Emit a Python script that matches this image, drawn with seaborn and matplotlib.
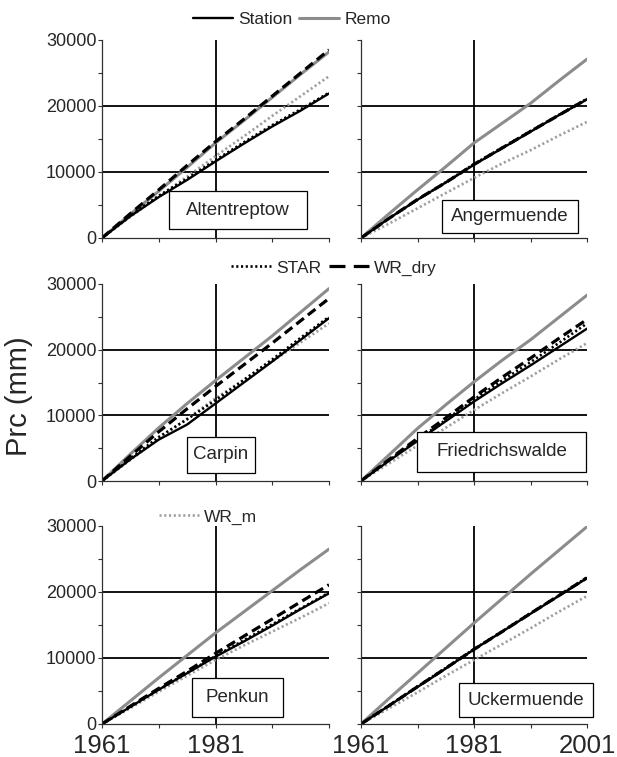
import pandas as pd
import matplotlib.pyplot as plt
from matplotlib.lines import Line2D
from matplotlib.patches import Rectangle
from matplotlib.ticker import MultipleLocator, FixedLocator
import seaborn as sns

# cumulative precipitation (mm), every 5 years
years = [1961, 1966, 1971, 1976, 1981, 1986, 1991, 1996, 2001]
sites = ['Altentreptow', 'Angermuende', 'Carpin', 'Friedrichswalde', 'Penkun', 'Uckermuende']

station = [
    [0, 3300, 6200, 8800, 11600, 14300, 16900, 19300, 21900],
    [0, 3000, 5800, 8400, 11100, 13600, 16100, 18600, 21000],
    [0, 3300, 6300, 8600, 11800, 15000, 18200, 21500, 24800],
    [0, 3100, 6100, 9100, 12100, 14900, 17600, 20400, 23200],
    [0, 2600, 5200, 7700, 10200, 12500, 14900, 17400, 19800],
    [0, 2800, 5600, 8400, 11300, 14000, 16700, 19400, 22100],
]
remo = [
    [0, 3600, 7100, 10700, 14400, 17800, 21300, 24800, 28200],
    [0, 3700, 7300, 10800, 14400, 17400, 20400, 23800, 27100],
    [0, 4100, 8100, 11800, 15300, 18700, 22100, 25700, 29300],
    [0, 4000, 8000, 11600, 15100, 18400, 21500, 24900, 28300],
    [0, 3500, 7000, 10400, 13800, 17000, 20200, 23400, 26500],
    [0, 3900, 7700, 11500, 15300, 19000, 22700, 26300, 29900],
]
star = [
    [0, 3400, 6400, 9000, 11800, 14500, 17100, 19500, 22000],
    [0, 3000, 5800, 8450, 11200, 13700, 16200, 18650, 21100],
    [0, 3400, 6700, 9400, 12300, 15400, 18500, 21800, 25000],
    [0, 3200, 6300, 9300, 12400, 15300, 18100, 21000, 24000],
    [0, 2600, 5200, 7750, 10300, 12700, 15100, 17500, 19900],
    [0, 2850, 5700, 8500, 11350, 14050, 16800, 19450, 22200],
]
wr_dry = [
    [0, 3700, 7300, 11000, 14600, 18000, 21500, 25000, 28500],
    [0, 3000, 5850, 8400, 11150, 13650, 16150, 18600, 21050],
    [0, 3800, 7500, 11000, 14400, 17700, 21000, 24400, 27800],
    [0, 3300, 6500, 9600, 12800, 15800, 18700, 21700, 24600],
    [0, 2700, 5400, 8000, 10700, 13300, 15900, 18500, 21100],
    [0, 2800, 5650, 8450, 11300, 14000, 16750, 19450, 22150],
]
wr_m = [
    [0, 3200, 6300, 9300, 12400, 15400, 18500, 21500, 24500],
    [0, 2200, 4500, 6800, 9100, 11300, 13300, 15500, 17600],
    [0, 3200, 6400, 9500, 12600, 15400, 18200, 21100, 24000],
    [0, 2700, 5400, 8100, 10800, 13400, 15900, 18500, 21000],
    [0, 2400, 4900, 7300, 9700, 11900, 14000, 16100, 18300],
    [0, 2400, 4800, 7300, 9700, 12100, 14500, 17000, 19400],
]

series = {'WR_m': wr_m, 'Remo': remo, 'Station': station, 'STAR': star, 'WR_dry': wr_dry}
rows = []
for name, vals in series.items():
    for i, site in enumerate(sites):
        for yr, v in zip(years, vals[i]):
            rows.append({'site': site, 'series': name, 'year': yr, 'prc': v})
df = pd.DataFrame(rows)

styles = {
    'Station': dict(color='black', lw=1.7, ls='-'),
    'Remo': dict(color='#8c8c8c', lw=2.2, ls='-'),
    'STAR': dict(color='black', lw=1.9, ls=(0, (0.8, 1.0))),
    'WR_dry': dict(color='black', lw=2.3, ls=(0, (3, 1.6))),
    'WR_m': dict(color='#9e9e9e', lw=1.9, ls=(0, (0.8, 1.0))),
}

sns.set_style('ticks')
plt.rcParams['font.family'] = ['Liberation Sans', 'DejaVu Sans']

fig = plt.figure(figsize=(6.17, 7.57), dpi=100)
W, H = 617, 757
col_x = [(102, 227), (361, 226)]
row_y = [(40, 238), (284, 481), (526, 724)]
# label boxes in axes fraction: x0, x1, y0, y1
boxes = [(0.295, 0.903, 0.045, 0.237), (0.358, 0.960, 0.025, 0.192),
         (0.374, 0.674, 0.041, 0.223), (0.248, 0.996, 0.046, 0.249),
         (0.396, 0.797, 0.035, 0.232), (0.434, 1.027, 0.035, 0.207)]

for k, site in enumerate(sites):
    r, c = divmod(k, 2)
    x0, w = col_x[c]
    top, bot = row_y[r]
    ax = fig.add_axes([x0 / W, 1 - bot / H, w / W, (bot - top) / H])
    ax.axhline(10000, color='black', lw=1.3, zorder=1)
    ax.axhline(20000, color='black', lw=1.3, zorder=1)
    ax.axvline(1981, color='black', lw=1.3, zorder=1)
    sub = df[df['site'] == site]
    for name in series:
        st = styles[name]
        sns.lineplot(data=sub[sub['series'] == name], x='year', y='prc', ax=ax,
                     color=st['color'], linewidth=st['lw'], linestyle=st['ls'],
                     legend=False, zorder=2)
    ax.set_xlim(1961, 2001)
    ax.set_ylim(0, 30000)
    ax.set_xlabel('')
    ax.set_ylabel('')
    sns.despine(ax=ax)
    for s in ('left', 'bottom'):
        ax.spines[s].set_color('#303030')
        ax.spines[s].set_linewidth(0.9)
    ax.yaxis.set_major_locator(MultipleLocator(10000))
    ax.yaxis.set_minor_locator(MultipleLocator(5000))
    ax.xaxis.set_minor_locator(FixedLocator([1971, 1991]))
    if r == 2 and c == 0:
        ax.xaxis.set_major_locator(FixedLocator([1961, 1981]))
        ax.xaxis.set_minor_locator(FixedLocator([1971, 1991, 2001]))
    else:
        ax.xaxis.set_major_locator(FixedLocator([1961, 1981, 2001]))
    ax.tick_params(which='both', direction='out', length=3, width=0.8, color='#303030')
    ax.tick_params(axis='y', labelsize=13, pad=1)
    ax.tick_params(axis='x', labelsize=18.5, pad=4.5)
    if c == 1:
        ax.set_yticklabels([])
    if r < 2:
        ax.set_xticklabels([])
    bx0, bx1, by0, by1 = boxes[k]
    ax.add_patch(Rectangle((bx0, by0), bx1 - bx0, by1 - by0, transform=ax.transAxes,
                           fc='white', ec='black', lw=0.9, zorder=5, clip_on=False))
    ax.text((bx0 + bx1) / 2, (by0 + by1) / 2, site, transform=ax.transAxes,
            ha='center', va='center', fontsize=13.5, zorder=6, clip_on=False)

fig.text(19 / W, 1 - 396 / H, 'Prc (mm)', rotation=90, ha='center', va='center', fontsize=21)


def handle(name, ls=None):
    st = styles[name]
    return Line2D([], [], color=st['color'], lw=st['lw'], ls=ls or st['ls'], label=name)


leg_kw = dict(loc='center', ncol=2, frameon=False, fontsize=12.5,
              handlelength=2.3, handletextpad=0.3, columnspacing=0.4, borderpad=0)
fig.legend(handles=[handle('Station'), handle('Remo')], bbox_to_anchor=(292 / W, 1 - 19 / H), **leg_kw)
fig.legend(handles=[handle('STAR'), handle('WR_dry', ls=(0, (5, 2.6)))],
           bbox_to_anchor=(334 / W, 1 - 268 / H), **leg_kw)
fig.legend(handles=[handle('WR_m')], bbox_to_anchor=(208 / W, 1 - 517 / H), **leg_kw)

fig.savefig('out.png', dpi=100)
